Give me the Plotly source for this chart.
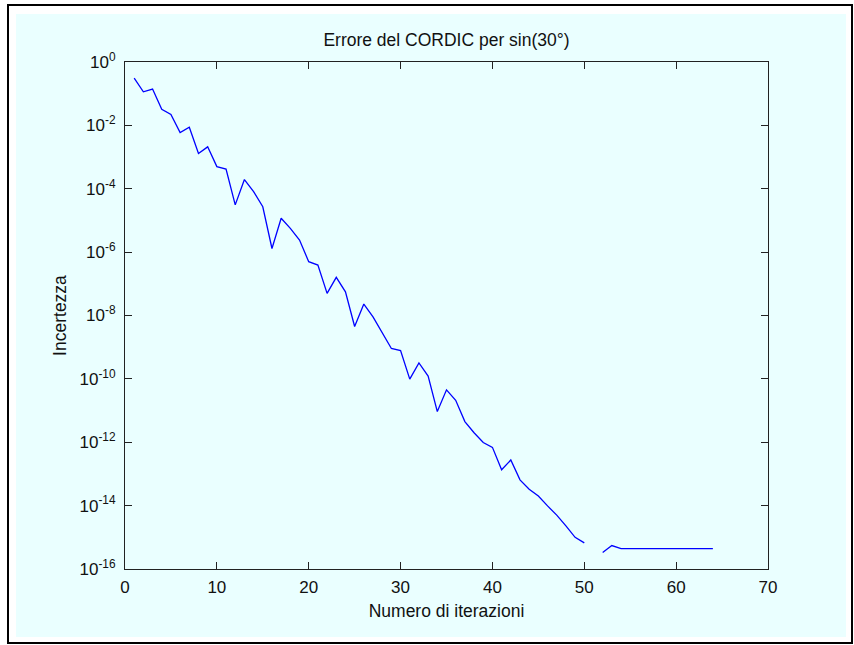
import plotly.graph_objects as go

# Data
iterations = list(range(1, 65))
errors = [
    0.31, 0.115, 0.14, 0.032, 0.022, 0.0059, 0.0087, 0.0013, 0.0021, 5.0e-4,
    4.2e-4, 3.1e-5, 1.95e-4, 8.1e-5, 2.7e-5, 1.3e-6, 1.17e-5, 5.6e-6, 2.4e-6, 5.0e-7,
    3.9e-7, 5.0e-8, 1.6e-7, 5.6e-8, 4.5e-9, 2.3e-8, 9.1e-9, 2.75e-9, 9.1e-10, 7.8e-10,
    9.8e-11, 3.2e-10, 1.23e-10, 9.3e-12, 4.5e-11, 2.1e-11, 4.5e-12, 2.0e-12, 9.8e-13, 6.9e-13,
    1.35e-13, 2.75e-13, 6.5e-14, 3.3e-14, 2.0e-14, 9.8e-15, 5.0e-15, 2.3e-15, 1.0e-15, 6.7e-16,
    None, 3.3e-16, 5.5e-16, 4.4e-16, 4.4e-16, 4.4e-16, 4.4e-16, 4.4e-16, 4.4e-16, 4.4e-16,
    4.4e-16, 4.4e-16, 4.4e-16, 4.4e-16,
]
x_ticks = [0, 10, 20, 30, 40, 50, 60, 70]
y_exponents = [0, -2, -4, -6, -8, -10, -12, -14, -16]
y_tickvals = [10.0 ** e for e in y_exponents]
y_ticktext = ["10<sup>%d</sup>" % e for e in y_exponents]

title_text = "Errore del CORDIC per sin(30°)"
x_label = "Numero di iterazioni"
y_label = "Incertezza"

W, H = 854, 645
L, R, T, B = 125, 768, 62, 569
pw, ph = R - L, B - T
CYAN = "#EAFFFF"
FONT = "Liberation Sans, Arial, sans-serif"
TXT = "#111111"


def px(x):
    return (x - L) / pw


def py(y):
    return (B - y) / ph


fig = go.Figure()
fig.add_trace(go.Scatter(
    x=iterations, y=errors, mode="lines",
    line=dict(color="#0000FF", width=1.3),
    connectgaps=False, showlegend=False,
))

axis_common = dict(
    showline=True, linecolor="#222222", linewidth=1,
    mirror="ticks", ticks="inside", ticklen=7, tickwidth=1, tickcolor="#222222",
    showgrid=False, zeroline=False,
    tickfont=dict(family=FONT, size=17, color=TXT),
)

fig.update_layout(
    width=W, height=H,
    margin=dict(l=L, r=W - R, t=T, b=H - B, pad=0),
    paper_bgcolor="white",
    plot_bgcolor=CYAN,
    font=dict(family=FONT, size=17, color=TXT),
    title=dict(text=title_text, x=(L + R) / 2 / W, xanchor="center",
               y=1 - 40 / H, yanchor="middle",
               font=dict(family=FONT, size=17.5, color=TXT)),
    xaxis=dict(range=[0, 70], tickvals=x_ticks, ticklabelstandoff=3,
               title=dict(text=x_label, font=dict(family=FONT, size=17.5, color=TXT), standoff=8),
               **axis_common),
    yaxis=dict(type="log", range=[-16, 0], tickvals=y_tickvals, ticktext=y_ticktext,
               ticklabelstandoff=5,
               title=dict(text=y_label, font=dict(family=FONT, size=17.5, color=TXT), standoff=8),
               **axis_common),
    shapes=[
        dict(type="rect", xref="paper", yref="paper",
             x0=px(8), x1=px(852), y0=py(643), y1=py(5),
             line=dict(color="black", width=2), fillcolor="white", layer="below"),
        dict(type="rect", xref="paper", yref="paper",
             x0=px(16), x1=px(846), y0=py(637), y1=py(14),
             line=dict(width=0), fillcolor=CYAN, layer="below"),
    ],
)

fig.write_html("out.html")
